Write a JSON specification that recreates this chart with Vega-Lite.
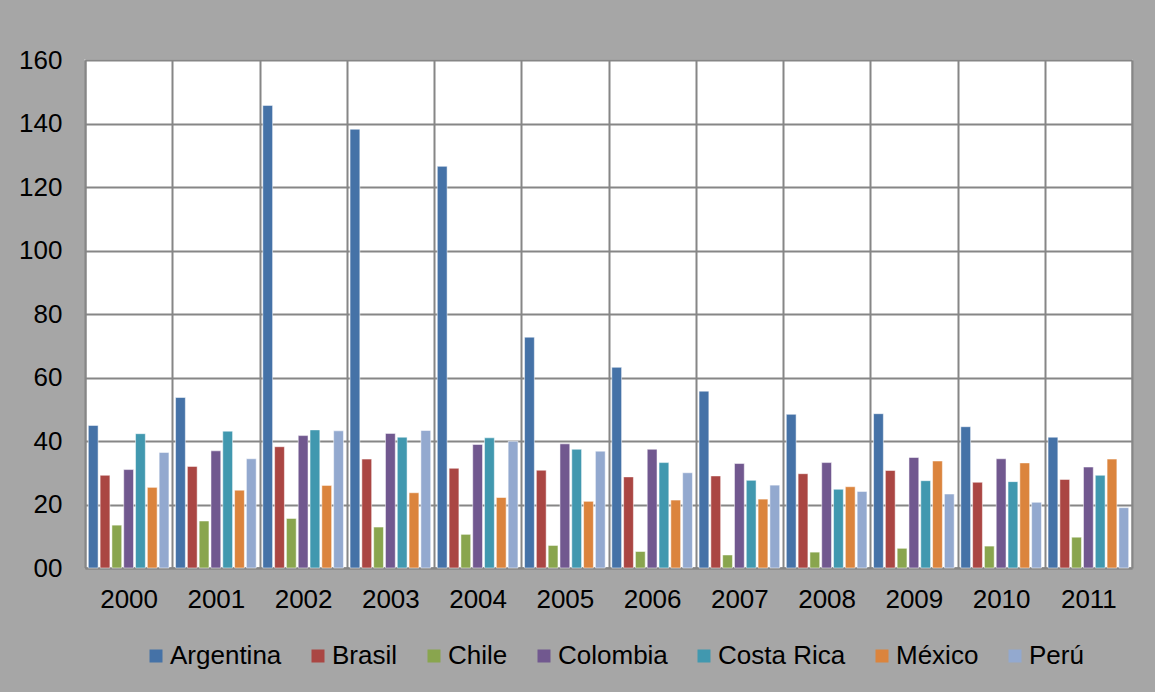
{
  "$schema": "https://vega.github.io/schema/vega-lite/v6.json",
  "width": 1047,
  "height": 508,
  "autosize": {"type": "none"},
  "padding": {"left": 85, "top": 60, "right": 23, "bottom": 124},
  "background": "#A6A6A6",
  "data": {"values": [
    {"year": "2000", "country": "Argentina", "value": 44.9},
    {"year": "2000", "country": "Brasil", "value": 29.2},
    {"year": "2000", "country": "Chile", "value": 13.5},
    {"year": "2000", "country": "Colombia", "value": 31.0},
    {"year": "2000", "country": "Costa Rica", "value": 42.3},
    {"year": "2000", "country": "México", "value": 25.4},
    {"year": "2000", "country": "Perú", "value": 36.4},
    {"year": "2001", "country": "Argentina", "value": 53.7},
    {"year": "2001", "country": "Brasil", "value": 32.0},
    {"year": "2001", "country": "Chile", "value": 14.8},
    {"year": "2001", "country": "Colombia", "value": 36.9},
    {"year": "2001", "country": "Costa Rica", "value": 43.1},
    {"year": "2001", "country": "México", "value": 24.5},
    {"year": "2001", "country": "Perú", "value": 34.4},
    {"year": "2002", "country": "Argentina", "value": 145.7},
    {"year": "2002", "country": "Brasil", "value": 38.2},
    {"year": "2002", "country": "Chile", "value": 15.6},
    {"year": "2002", "country": "Colombia", "value": 41.7},
    {"year": "2002", "country": "Costa Rica", "value": 43.5},
    {"year": "2002", "country": "México", "value": 26.0},
    {"year": "2002", "country": "Perú", "value": 43.2},
    {"year": "2003", "country": "Argentina", "value": 138.2},
    {"year": "2003", "country": "Brasil", "value": 34.3},
    {"year": "2003", "country": "Chile", "value": 12.9},
    {"year": "2003", "country": "Colombia", "value": 42.4},
    {"year": "2003", "country": "Costa Rica", "value": 41.2},
    {"year": "2003", "country": "México", "value": 23.7},
    {"year": "2003", "country": "Perú", "value": 43.3},
    {"year": "2004", "country": "Argentina", "value": 126.5},
    {"year": "2004", "country": "Brasil", "value": 31.4},
    {"year": "2004", "country": "Chile", "value": 10.6},
    {"year": "2004", "country": "Colombia", "value": 38.9},
    {"year": "2004", "country": "Costa Rica", "value": 41.0},
    {"year": "2004", "country": "México", "value": 22.2},
    {"year": "2004", "country": "Perú", "value": 39.9},
    {"year": "2005", "country": "Argentina", "value": 72.7},
    {"year": "2005", "country": "Brasil", "value": 30.8},
    {"year": "2005", "country": "Chile", "value": 7.1},
    {"year": "2005", "country": "Colombia", "value": 39.1},
    {"year": "2005", "country": "Costa Rica", "value": 37.4},
    {"year": "2005", "country": "México", "value": 21.0},
    {"year": "2005", "country": "Perú", "value": 36.8},
    {"year": "2006", "country": "Argentina", "value": 63.2},
    {"year": "2006", "country": "Brasil", "value": 28.7},
    {"year": "2006", "country": "Chile", "value": 5.2},
    {"year": "2006", "country": "Colombia", "value": 37.4},
    {"year": "2006", "country": "Costa Rica", "value": 33.2},
    {"year": "2006", "country": "México", "value": 21.4},
    {"year": "2006", "country": "Perú", "value": 30.0},
    {"year": "2007", "country": "Argentina", "value": 55.7},
    {"year": "2007", "country": "Brasil", "value": 29.0},
    {"year": "2007", "country": "Chile", "value": 4.1},
    {"year": "2007", "country": "Colombia", "value": 32.9},
    {"year": "2007", "country": "Costa Rica", "value": 27.6},
    {"year": "2007", "country": "México", "value": 21.7},
    {"year": "2007", "country": "Perú", "value": 26.1},
    {"year": "2008", "country": "Argentina", "value": 48.4},
    {"year": "2008", "country": "Brasil", "value": 29.7},
    {"year": "2008", "country": "Chile", "value": 5.0},
    {"year": "2008", "country": "Colombia", "value": 33.2},
    {"year": "2008", "country": "Costa Rica", "value": 24.8},
    {"year": "2008", "country": "México", "value": 25.6},
    {"year": "2008", "country": "Perú", "value": 24.1},
    {"year": "2009", "country": "Argentina", "value": 48.6},
    {"year": "2009", "country": "Brasil", "value": 30.7},
    {"year": "2009", "country": "Chile", "value": 6.2},
    {"year": "2009", "country": "Colombia", "value": 34.8},
    {"year": "2009", "country": "Costa Rica", "value": 27.5},
    {"year": "2009", "country": "México", "value": 33.7},
    {"year": "2009", "country": "Perú", "value": 23.3},
    {"year": "2010", "country": "Argentina", "value": 44.5},
    {"year": "2010", "country": "Brasil", "value": 27.0},
    {"year": "2010", "country": "Chile", "value": 6.9},
    {"year": "2010", "country": "Colombia", "value": 34.4},
    {"year": "2010", "country": "Costa Rica", "value": 27.2},
    {"year": "2010", "country": "México", "value": 33.1},
    {"year": "2010", "country": "Perú", "value": 20.7},
    {"year": "2011", "country": "Argentina", "value": 41.2},
    {"year": "2011", "country": "Brasil", "value": 27.9},
    {"year": "2011", "country": "Chile", "value": 9.7},
    {"year": "2011", "country": "Colombia", "value": 31.8},
    {"year": "2011", "country": "Costa Rica", "value": 29.2},
    {"year": "2011", "country": "México", "value": 34.3},
    {"year": "2011", "country": "Perú", "value": 19.0}
  ]},
  "mark": {"type": "bar", "stroke": "white", "strokeOpacity": 0.5, "strokeWidth": 1},
  "encoding": {
    "x": {
      "field": "year", "type": "nominal",
      "scale": {"paddingInner": 0, "paddingOuter": 0},
      "axis": {
        "title": null, "labelAngle": 0, "tickBand": "extent",
        "ticks": false, "labelPadding": 18,
        "grid": true, "gridColor": "#868686", "gridWidth": 2,
        "domainColor": "#868686", "domainWidth": 2
      }
    },
    "xOffset": {
      "field": "country", "type": "nominal",
      "scale": {"domain": ["Argentina", "Brasil", "Chile", "Colombia", "Costa Rica", "México", "Perú"], "paddingInner": 0.17, "paddingOuter": 0.28}
    },
    "y": {
      "field": "value", "type": "quantitative",
      "scale": {"domain": [0, 160], "nice": false},
      "axis": {
        "title": null, "values": [0, 20, 40, 60, 80, 100, 120, 140, 160],
        "labelExpr": "datum.value == 0 ? '00' : datum.label",
        "ticks": false, "labelPadding": 23,
        "grid": true, "gridColor": "#868686", "gridWidth": 2,
        "domainColor": "#868686", "domainWidth": 2
      }
    },
    "color": {
      "field": "country", "type": "nominal",
      "scale": {
        "domain": ["Argentina", "Brasil", "Chile", "Colombia", "Costa Rica", "México", "Perú"],
        "range": ["#4572A7", "#AA4643", "#89A54E", "#71588F", "#4198AF", "#DB843D", "#93A9CF"]
      },
      "legend": {
        "title": null, "orient": "none", "direction": "horizontal",
        "legendX": 58, "legendY": 583,
        "symbolType": "square", "symbolSize": 169, "symbolStrokeWidth": 0,
        "symbolOpacity": 1, "labelOffset": 1, "columnPadding": 23,
        "labelFontSize": 26, "labelColor": "black", "labelFont": "Liberation Sans"
      }
    }
  },
  "config": {
    "font": "Liberation Sans",
    "view": {"fill": "white", "stroke": "#BFBFBF", "strokeWidth": 2},
    "axis": {"labelFontSize": 26, "labelColor": "black", "labelFont": "Liberation Sans"}
  }
}
